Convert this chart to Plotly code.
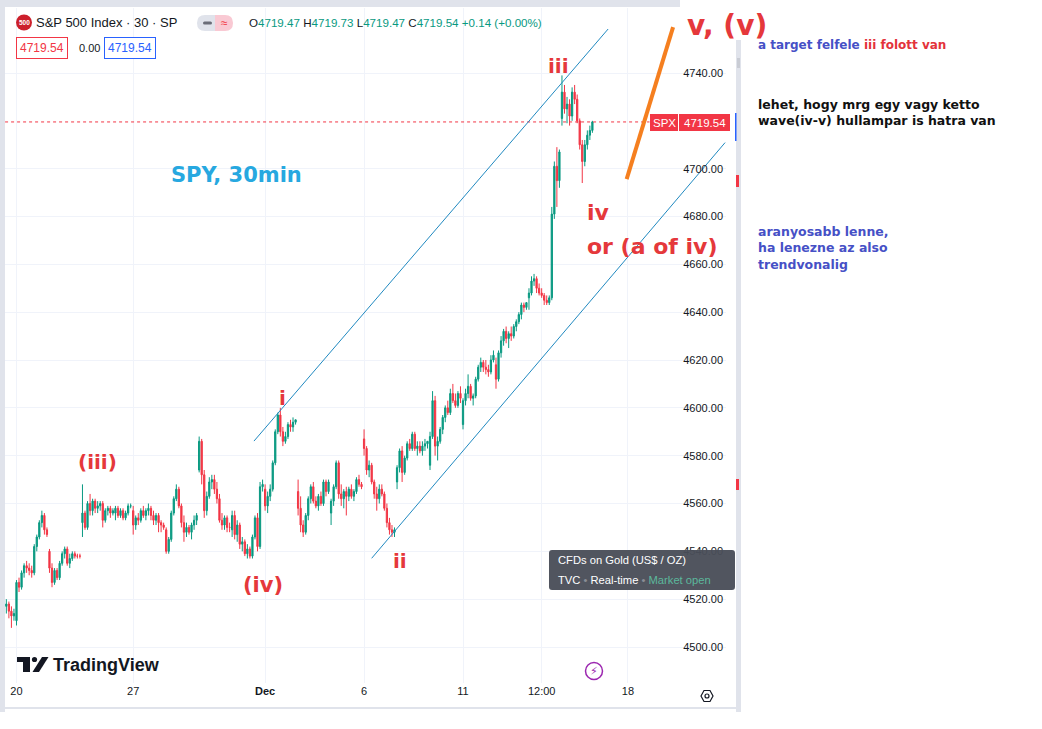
import plotly.graph_objects as go

# SPX 30 min candles, 17 Nov - 14 Dec 2023
bar_idx = list(range(-4, 228))

opens = [
    4517, 4518, 4515, 4513,
    4511, 4527, 4525, 4531, 4534, 4533, 4532, 4531, 4542, 4546, 4552, 4555, 4549,
    4540, 4533, 4527, 4532, 4529, 4535, 4539, 4541, 4535, 4537, 4539, 4538, 4538,
    4552, 4556, 4550, 4560, 4557, 4561, 4558, 4559, 4560, 4553, 4557, 4558, 4556,
    4556, 4558, 4555, 4557, 4554, 4556, 4559,
    4557, 4551, 4554, 4553, 4557, 4555, 4557, 4558, 4555, 4553, 4555, 4552, 4551,
    4549, 4540, 4545, 4556, 4562, 4566, 4559, 4552, 4548, 4550, 4548, 4551, 4553,
    4574, 4586, 4572, 4557, 4563, 4569, 4570, 4566, 4562, 4553, 4551, 4554, 4550,
    4549, 4555, 4547, 4551, 4543, 4544, 4539, 4541, 4538, 4546, 4554, 4542, 4567,
    4566, 4559, 4563, 4566, 4577, 4590, 4597, 4590, 4586, 4588, 4593, 4592, 4594,
    4565, 4558, 4551, 4548, 4555, 4562, 4567, 4561, 4559, 4563, 4560, 4569, 4565,
    4556, 4561, 4567, 4577, 4564, 4562, 4565, 4563, 4566, 4563, 4565, 4570, 4568,
    4587, 4583, 4574, 4576, 4569, 4564, 4562, 4566, 4564, 4558, 4552, 4549, 4548,
    4569, 4575, 4582, 4573, 4579, 4585, 4583, 4589, 4583, 4584, 4582, 4584, 4585,
    4576, 4588, 4603, 4584, 4586, 4591, 4596, 4600, 4598, 4606, 4603, 4601, 4606,
    4593, 4603, 4606, 4609, 4604, 4605, 4612, 4617, 4619, 4617, 4616, 4615, 4620,
    4618, 4612, 4623, 4628, 4632, 4629, 4631, 4630, 4634, 4636, 4639, 4643, 4642,
    4646, 4648, 4653, 4654, 4650, 4648, 4647, 4645, 4644, 4646, 4681, 4701, 4695,
    4721, 4732, 4725, 4727, 4722, 4732, 4729, 4720, 4710, 4703, 4710, 4714, 4716,
]
highs = [
    4520, 4519, 4517, 4516,
    4528, 4529, 4532, 4535, 4536, 4535, 4534, 4543, 4547, 4553, 4557, 4556, 4550,
    4541, 4535, 4533, 4533, 4536, 4540, 4542, 4542, 4539, 4540, 4540, 4539, 4539,
    4568, 4557, 4561, 4564, 4562, 4562, 4561, 4561, 4561, 4558, 4559, 4559, 4558,
    4559, 4559, 4558, 4558, 4557, 4560, 4560,
    4559, 4555, 4556, 4558, 4559, 4558, 4560, 4559, 4557, 4556, 4556, 4553, 4552,
    4550, 4546, 4557, 4563, 4568, 4567, 4560, 4555, 4552, 4551, 4552, 4555, 4556,
    4588, 4587, 4574, 4565, 4571, 4572, 4572, 4569, 4564, 4556, 4555, 4555, 4552,
    4557, 4557, 4553, 4552, 4546, 4545, 4543, 4542, 4547, 4555, 4556, 4569, 4570,
    4568, 4565, 4568, 4578, 4591, 4598, 4600, 4592, 4590, 4594, 4595, 4596, 4595,
    4570, 4563, 4553, 4556, 4563, 4568, 4569, 4563, 4564, 4565, 4570, 4570, 4570,
    4562, 4568, 4578, 4578, 4568, 4566, 4567, 4567, 4568, 4566, 4571, 4572, 4569,
    4591, 4584, 4578, 4577, 4570, 4567, 4568, 4568, 4565, 4560, 4554, 4551, 4550,
    4576, 4583, 4584, 4580, 4586, 4587, 4590, 4590, 4586, 4586, 4586, 4587, 4586,
    4590, 4607, 4605, 4588, 4592, 4597, 4601, 4603, 4608, 4610, 4606, 4607, 4609,
    4604, 4608, 4614, 4610, 4606, 4613, 4618, 4621, 4620, 4620, 4618, 4622, 4624,
    4621, 4624, 4630, 4633, 4634, 4632, 4634, 4635, 4637, 4640, 4644, 4644, 4644,
    4650, 4655, 4656, 4655, 4652, 4650, 4648, 4647, 4647, 4684, 4703, 4709, 4708,
    4739, 4735, 4730, 4729, 4734, 4735, 4731, 4721, 4712, 4712, 4716, 4718, 4720,
]
lows = [
    4514, 4512, 4508, 4511,
    4509, 4523, 4524, 4529, 4531, 4530, 4529, 4530, 4540, 4545, 4550, 4547, 4546,
    4531, 4525, 4526, 4528, 4528, 4534, 4537, 4534, 4533, 4536, 4537, 4537, 4537,
    4546, 4549, 4549, 4555, 4555, 4556, 4556, 4557, 4550, 4552, 4555, 4554, 4555,
    4553, 4554, 4554, 4553, 4553, 4555, 4558,
    4547, 4549, 4551, 4552, 4554, 4553, 4555, 4553, 4551, 4551, 4548, 4548, 4549,
    4539, 4539, 4544, 4555, 4561, 4558, 4550, 4544, 4546, 4547, 4545, 4549, 4551,
    4573, 4568, 4554, 4555, 4562, 4566, 4564, 4560, 4552, 4549, 4549, 4548, 4548,
    4546, 4545, 4544, 4541, 4540, 4538, 4537, 4537, 4537, 4545, 4540, 4541, 4565,
    4557, 4556, 4561, 4565, 4576, 4589, 4588, 4584, 4585, 4587, 4590, 4590, 4593,
    4555, 4548, 4546, 4547, 4553, 4560, 4560, 4558, 4557, 4559, 4559, 4563, 4564,
    4551, 4559, 4566, 4562, 4559, 4558, 4555, 4561, 4562, 4561, 4564, 4567, 4566,
    4580, 4572, 4571, 4568, 4562, 4557, 4560, 4563, 4557, 4550, 4547, 4546, 4546,
    4566, 4573, 4569, 4572, 4578, 4582, 4582, 4582, 4580, 4581, 4580, 4582, 4583,
    4574, 4587, 4580, 4578, 4585, 4589, 4594, 4597, 4597, 4602, 4600, 4600, 4602,
    4591, 4601, 4604, 4603, 4601, 4604, 4611, 4615, 4615, 4614, 4613, 4614, 4619,
    4608, 4611, 4621, 4626, 4627, 4625, 4628, 4629, 4632, 4635, 4637, 4640, 4641,
    4641, 4647, 4651, 4648, 4647, 4646, 4643, 4643, 4643, 4645, 4679, 4684, 4692,
    4718, 4723, 4719, 4718, 4720, 4727, 4719, 4708, 4694, 4701, 4708, 4712, 4715,
]
closes = [
    4518, 4515, 4513, 4514,
    4527, 4525, 4531, 4534, 4533, 4532, 4531, 4542, 4546, 4552, 4555, 4549, 4547,
    4533, 4527, 4532, 4529, 4535, 4539, 4541, 4535, 4537, 4539, 4538, 4538, 4538,
    4556, 4550, 4560, 4557, 4561, 4558, 4559, 4560, 4553, 4557, 4558, 4556, 4557,
    4558, 4555, 4557, 4554, 4556, 4559, 4559,
    4551, 4554, 4553, 4557, 4555, 4557, 4558, 4555, 4553, 4555, 4552, 4551, 4550,
    4540, 4545, 4556, 4562, 4566, 4559, 4552, 4548, 4550, 4548, 4551, 4553, 4555,
    4586, 4572, 4557, 4563, 4569, 4570, 4566, 4562, 4553, 4551, 4554, 4550, 4550,
    4555, 4547, 4551, 4543, 4544, 4539, 4541, 4538, 4546, 4554, 4542, 4567, 4568,
    4559, 4563, 4566, 4577, 4590, 4597, 4590, 4586, 4588, 4593, 4592, 4594, 4595,
    4558, 4551, 4548, 4555, 4562, 4567, 4561, 4559, 4563, 4560, 4569, 4565, 4569,
    4561, 4567, 4577, 4564, 4562, 4565, 4563, 4566, 4563, 4565, 4570, 4568, 4567,
    4583, 4574, 4576, 4569, 4564, 4562, 4566, 4564, 4558, 4552, 4549, 4548, 4549,
    4575, 4582, 4573, 4579, 4585, 4583, 4589, 4583, 4584, 4582, 4584, 4585, 4586,
    4588, 4603, 4584, 4586, 4591, 4596, 4600, 4598, 4606, 4603, 4601, 4606, 4604,
    4603, 4606, 4609, 4604, 4605, 4612, 4617, 4619, 4617, 4616, 4615, 4620, 4622,
    4612, 4623, 4628, 4632, 4629, 4631, 4630, 4634, 4636, 4639, 4643, 4642, 4644,
    4648, 4653, 4654, 4650, 4648, 4647, 4645, 4644, 4646, 4681, 4701, 4695, 4707,
    4732, 4725, 4727, 4722, 4732, 4729, 4720, 4710, 4703, 4710, 4714, 4716, 4719.54,
]

date_ticks = [0, 46, 98, 137, 176, 207, 241]
date_labels = ["20", "27", "<b>Dec</b>", "6", "11", "12:00", "18"]
# 4720 sits under the SPX price tag, so it is left out
price_ticks = [4500, 4520, 4540, 4560, 4580, 4600, 4620, 4640, 4660, 4680, 4700, 4740]

# hand drawn lines (bar index, price)
upper_x = [93.6, 233.2]
upper_y = [4586.1, 4758.4]
lower_x = [140.0, 279.3]
lower_y = [4537.1, 4710.9]
target_x = [240.5, 258.8]
target_y = [4695.6, 4759.2]
last_price = 4719.54

UP = "#089981"
DOWN = "#f23645"
WAVE = "#e5383b"
GRID = "#f0f3fa"
W, H = 1042, 729


def px(x):
    return x / W


def py(y):
    return 1 - y / H


def rrect(x0, y0, x1, y1, r):
    pts = [("M", x0 + r, y0), ("L", x1 - r, y0), ("Q", x1, y0, x1, y0 + r),
           ("L", x1, y1 - r), ("Q", x1, y1, x1 - r, y1), ("L", x0 + r, y1),
           ("Q", x0, y1, x0, y1 - r), ("L", x0, y0 + r), ("Q", x0, y0, x0 + r, y0)]
    out = []
    for p in pts:
        coords = []
        for i in range(1, len(p), 2):
            coords.append("{:.5f},{:.5f}".format(px(p[i]), py(p[i + 1])))
        out.append(p[0] + " " + " ".join(coords))
    return " ".join(out) + " Z"


def box(x0, y0, x1, y1, color, layer="above"):
    return dict(type="rect", xref="paper", yref="paper", x0=px(x0), x1=px(x1),
                y0=py(y1), y1=py(y0), fillcolor=color, line=dict(width=0), layer=layer)


def circ(cx, cy, r, fill="rgba(0,0,0,0)", line=None, lw=0):
    return dict(type="circle", xref="paper", yref="paper", x0=px(cx - r), x1=px(cx + r),
                y0=py(cy + r), y1=py(cy - r), fillcolor=fill,
                line=dict(color=line or fill, width=lw), layer="above")


def note(x, y, text, size=12, color="#131722", family="Liberation Sans", anchor="left", **kw):
    d = dict(xref="paper", yref="paper", x=px(x), y=py(y), text=text, showarrow=False,
             xanchor=anchor, yanchor="middle", font=dict(size=size, color=color, family=family))
    d.update(kw)
    return d


fig = go.Figure()

fig.add_trace(go.Candlestick(
    x=bar_idx, open=opens, high=highs, low=lows, close=closes,
    increasing=dict(line=dict(color=UP, width=1), fillcolor=UP),
    decreasing=dict(line=dict(color=DOWN, width=1), fillcolor=DOWN),
    whiskerwidth=0, hoverinfo="skip", showlegend=False))

# last price dotted line
fig.add_trace(go.Scatter(x=[-4.5, 249.5], y=[last_price, last_price], mode="lines",
                         line=dict(color=DOWN, width=1, dash="dot"), hoverinfo="skip"))

# channel + target line
for xs, ys in [(upper_x, upper_y), (lower_x, lower_y)]:
    fig.add_trace(go.Scatter(x=xs, y=ys, mode="lines", line=dict(color="#2089c0", width=1),
                             hoverinfo="skip"))
fig.add_trace(go.Scatter(x=target_x, y=target_y, mode="lines",
                         line=dict(color="#f57f1f", width=4), hoverinfo="skip"))

shapes = [
    box(680, 8, 726, 683, "white", layer="between"),
    box(0, 0, 5, 712, "#e0e3eb"),
    box(0, 0, 680, 7, "#e0e3eb"),
    box(736, 40, 741, 712, "#e0e3eb"),
    box(5, 707, 736, 709, "#e0e3eb"),
    box(737, 58, 740, 68, "#c9ccd4"),
    box(736, 175, 739, 187, DOWN),
    box(736, 479, 739, 490, DOWN),
    box(735, 113, 736.5, 141, "#2962ff"),
    # symbol logo
    circ(24, 22.5, 8, fill="#cc1f2b"),
    # pill
    dict(type="path", xref="paper", yref="paper", path=rrect(197, 15, 215, 31, 8),
         fillcolor="#e0e3eb", line=dict(width=0), layer="above"),
    dict(type="path", xref="paper", yref="paper", path=rrect(215, 15, 233, 31, 8),
         fillcolor="#f9c9d3", line=dict(width=0), layer="above"),
    box(207, 15, 220, 31, "#e0e3eb"),
    box(215, 15, 224, 31, "#f9c9d3"),
    dict(type="path", xref="paper", yref="paper", path=rrect(203, 21.5, 212, 24.5, 1.5),
         fillcolor="#6a6d78", line=dict(width=0), layer="above"),
    # SPX tag
    box(650, 114, 678, 131, DOWN),
    box(679, 114, 730, 131, DOWN),
    # tooltip
    dict(type="path", xref="paper", yref="paper", path=rrect(549, 550, 735, 590, 3),
         fillcolor="rgba(74,78,88,0.96)", line=dict(width=0), layer="above"),
    # TradingView logo
    box(17, 657, 30, 662, "#131722"),
    box(23, 657, 30, 672, "#131722"),
    circ(34.5, 659.5, 2.6, fill="#131722"),
    dict(type="path", xref="paper", yref="paper",
         path="M {:.5f},{:.5f} L {:.5f},{:.5f} L {:.5f},{:.5f} L {:.5f},{:.5f} Z".format(
             px(32.5), py(672), px(42), py(657), px(48.5), py(657), px(39), py(672)),
         fillcolor="#131722", line=dict(width=0), layer="above"),
    # lightning icon ring
    circ(594, 671, 8.5, line="#9c27b0", lw=1.5),
    # settings hexagon
    dict(type="path", xref="paper", yref="paper",
         path="M {:.5f},{:.5f} L {:.5f},{:.5f} L {:.5f},{:.5f} L {:.5f},{:.5f} L {:.5f},{:.5f} L {:.5f},{:.5f} Z".format(
             px(701), py(696), px(704), py(690.5), px(710), py(690.5), px(713), py(696),
             px(710), py(701.5), px(704), py(701.5)),
         fillcolor="rgba(0,0,0,0)", line=dict(color="#131722", width=1.2), layer="above"),
    circ(707, 696, 2, line="#131722", lw=1.2),
]

green = "<span style='color:#089981'>{}</span>"
ohlc = ("O" + green.format("4719.47") + " H" + green.format("4719.73") + " L" +
        green.format("4719.47") + " C" + green.format("4719.54") + " " +
        green.format("+0.14 (+0.00%)"))

annotations = [
    note(24, 22.5, "<b>500</b>", size=6.5, color="white", anchor="center"),
    note(34, 22.5, "S&amp;P 500 Index · 30 · SP", size=13),
    note(224, 22.5, "≈", size=12, color="#f23645", anchor="center"),
    note(247, 22.5, ohlc, size=11.6),
    note(16, 48, "4719.54", size=12, color=DOWN, bordercolor=DOWN, borderwidth=1,
         borderpad=3, bgcolor="white"),
    note(77, 48, "0.00", size=11),
    note(104, 48, "4719.54", size=12, color="#2962ff", bordercolor="#2962ff", borderwidth=1,
         borderpad=3, bgcolor="white"),
    # SPX tag texts
    note(664, 122.5, "SPX", size=11.5, color="white", anchor="center"),
    note(704.5, 122.5, "4719.54", size=11.5, color="white", anchor="center"),
    # tooltip texts
    note(556, 560, "CFDs on Gold (US$ / OZ)", size=11.2, color="white"),
    note(556, 580, "TVC <span style='color:#8a8d96'>•</span> Real-time "
                   "<span style='color:#8a8d96'>•</span> "
                   "<span style='color:#5cb89c'>Market open</span>", size=11.2, color="white"),
    # logo text, icons
    note(51, 664.5, "<b>TradingView</b>", size=18),
    note(594, 671, "⚡", size=11, color="#9c27b0", family="DejaVu Sans", anchor="center"),
    # elliott label outside the plot
    note(726.5, 25, "<b>v, (v)</b>", size=28, color=WAVE, family="DejaVu Sans", anchor="center"),
    # side comments
    note(756, 45, "<b>a target felfele <span style='color:#e3333b'>iii folott van</span></b>",
         size=12, color="#4650c6", family="DejaVu Sans"),
    note(756, 112, "<b>lehet, hogy mrg egy vagy ketto<br>wave(iv-v) hullampar is hatra van</b>",
         size=12.5, color="#111111", family="DejaVu Sans", align="left"),
    note(756, 248, "<b>aranyosabb lenne,<br>ha lenezne az also<br>trendvonalig</b>",
         size=12.5, color="#4650c6", family="DejaVu Sans", align="left"),
]

# wave labels on the chart (data coordinates)
for text, bx, pr, size, anchor in [
    ("(iii)", 32.1, 4577.4, 20, "center"),
    ("(iv)", 97.0, 4526.0, 21, "center"),
    ("i", 104.7, 4604.1, 20, "center"),
    ("ii", 151.2, 4536.0, 20, "center"),
    ("iii", 213.8, 4742.9, 20, "center"),
    ("iv", 224.1, 4681.5, 22, "left"),
    ("or (a of iv)", 224.1, 4667.3, 22, "left"),
]:
    annotations.append(dict(xref="x", yref="y", x=bx, y=pr, text="<b>" + text + "</b>",
                            showarrow=False, xanchor=anchor, yanchor="middle",
                            font=dict(size=size, color=WAVE, family="DejaVu Sans")))

annotations.append(dict(xref="x", yref="y", x=86.7, y=4697.4, text="<b>SPY, 30min</b>",
                        showarrow=False, xanchor="center", yanchor="middle",
                        font=dict(size=21, color="#27a8e0", family="DejaVu Sans")))

fig.update_layout(
    width=W, height=H,
    margin=dict(l=0, r=0, t=0, b=0),
    paper_bgcolor="white", plot_bgcolor="white",
    showlegend=False,
    font=dict(family="Liberation Sans", color="#131722"),
    xaxis=dict(domain=[px(5), px(726)], range=[-4.53, 279.66],
               tickvals=date_ticks, ticktext=date_labels, ticks="",
               showgrid=True, gridcolor=GRID, zeroline=False, showline=False,
               tickfont=dict(size=11, color="#131722"),
               rangeslider=dict(visible=False), fixedrange=True),
    yaxis=dict(domain=[py(683), py(8)], range=[4484.95, 4767.18],
               side="right", ticklabelposition="inside", tickvals=price_ticks,
               tickformat=".2f", ticks="", showgrid=True, gridcolor=GRID,
               zeroline=False, showline=False,
               tickfont=dict(size=11, color="#131722"), fixedrange=True),
    shapes=shapes,
    annotations=annotations,
)

# page has a default 8px body margin; drop it so the chart sits at the top-left corner
fig.write_html("out.html", config={"displayModeBar": False},
               post_script="document.body.style.margin='0';")
